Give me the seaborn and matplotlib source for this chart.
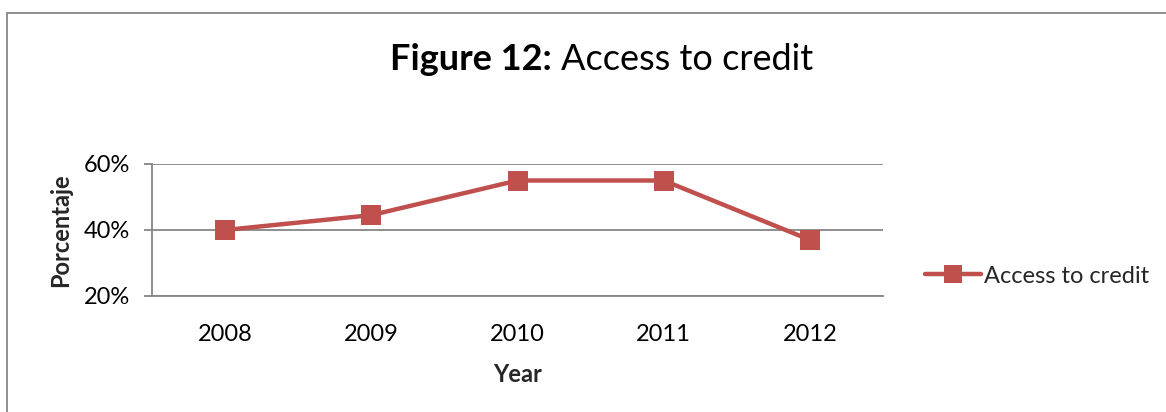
import matplotlib
matplotlib.use("Agg")
import matplotlib.pyplot as plt
from matplotlib.patches import Rectangle
import seaborn as sns
import pandas as pd

years = ["2008", "2009", "2010", "2011", "2012"]
access_to_credit = [40.0, 44.5, 55.0, 55.0, 37.0]
y_ticks = [20, 40, 60]
y_tick_labels = ["20%", "40%", "60%"]
series_name = "Access to credit"

sns.set_style("white")
plt.rcParams["font.family"] = ["Lato", "DejaVu Sans"]

W, H = 1166, 412
fig = plt.figure(figsize=(W / 100, H / 100), dpi=100)
ax = fig.add_axes([152 / W, 1 - 296 / H, (883 - 152) / W, (296 - 164) / H])

df = pd.DataFrame({"Year": years, "Value": access_to_credit, "Series": series_name})
red = "#C0504D"
grid = "#868686"
fs = 17

sns.lineplot(data=df, x="Year", y="Value", hue="Series", palette=[red],
             marker="s", markersize=15, markeredgewidth=0, linewidth=3.2,
             sort=False, ax=ax, legend=True)

ax.set_xlim(-0.5, len(years) - 0.5)
ax.set_ylim(20, 60)
ax.set_yticks(y_ticks)
ax.set_yticklabels(y_tick_labels)
ax.yaxis.grid(True, color=grid, linewidth=1.3)
ax.xaxis.grid(False)
for s in ["top", "right"]:
    ax.spines[s].set_visible(False)
ax.spines["left"].set_color(grid)
ax.spines["left"].set_linewidth(1.3)
ax.spines["bottom"].set_color(grid)
ax.spines["bottom"].set_linewidth(1.3)
ax.tick_params(axis="y", length=6, width=1.3, color=grid, left=True,
               labelsize=fs, pad=10)
ax.tick_params(axis="x", length=0, labelsize=fs, pad=20)
for t in ax.get_xticklabels() + ax.get_yticklabels():
    t.set_color("black")

ax.set_xlabel("Year", fontsize=fs, fontweight="bold", labelpad=13)
ax.set_ylabel("Porcentaje", fontsize=fs, fontweight="bold", labelpad=8)

leg = ax.legend(loc="center left", bbox_to_anchor=(1.045, 0.15), frameon=False,
                fontsize=fs, handlelength=2.35, handletextpad=0.15, borderaxespad=0)
for line in leg.get_lines():
    line.set_linewidth(3.2)
    line.set_markersize(13)

# title: bold prefix followed by regular text
fig.canvas.draw()
r = fig.canvas.get_renderer()
x0, ytitle = 390 / W, 1 - 60 / H
t1 = fig.text(x0, ytitle, "Figure 12:", fontsize=26, fontweight="bold", va="center", ha="left",
              color="black")
bb = t1.get_window_extent(renderer=r)
fig.text((bb.x1 + 9) / W, ytitle, "Access to credit", fontsize=26, va="center", ha="left",
         color="black")

# chart frame
fig.patches.append(Rectangle((7 / W, -0.1), 1.2, 1 - 13 / H + 0.1, transform=fig.transFigure,
                             fill=False, edgecolor=grid, linewidth=1.3))

fig.savefig("out.png", dpi=100)
